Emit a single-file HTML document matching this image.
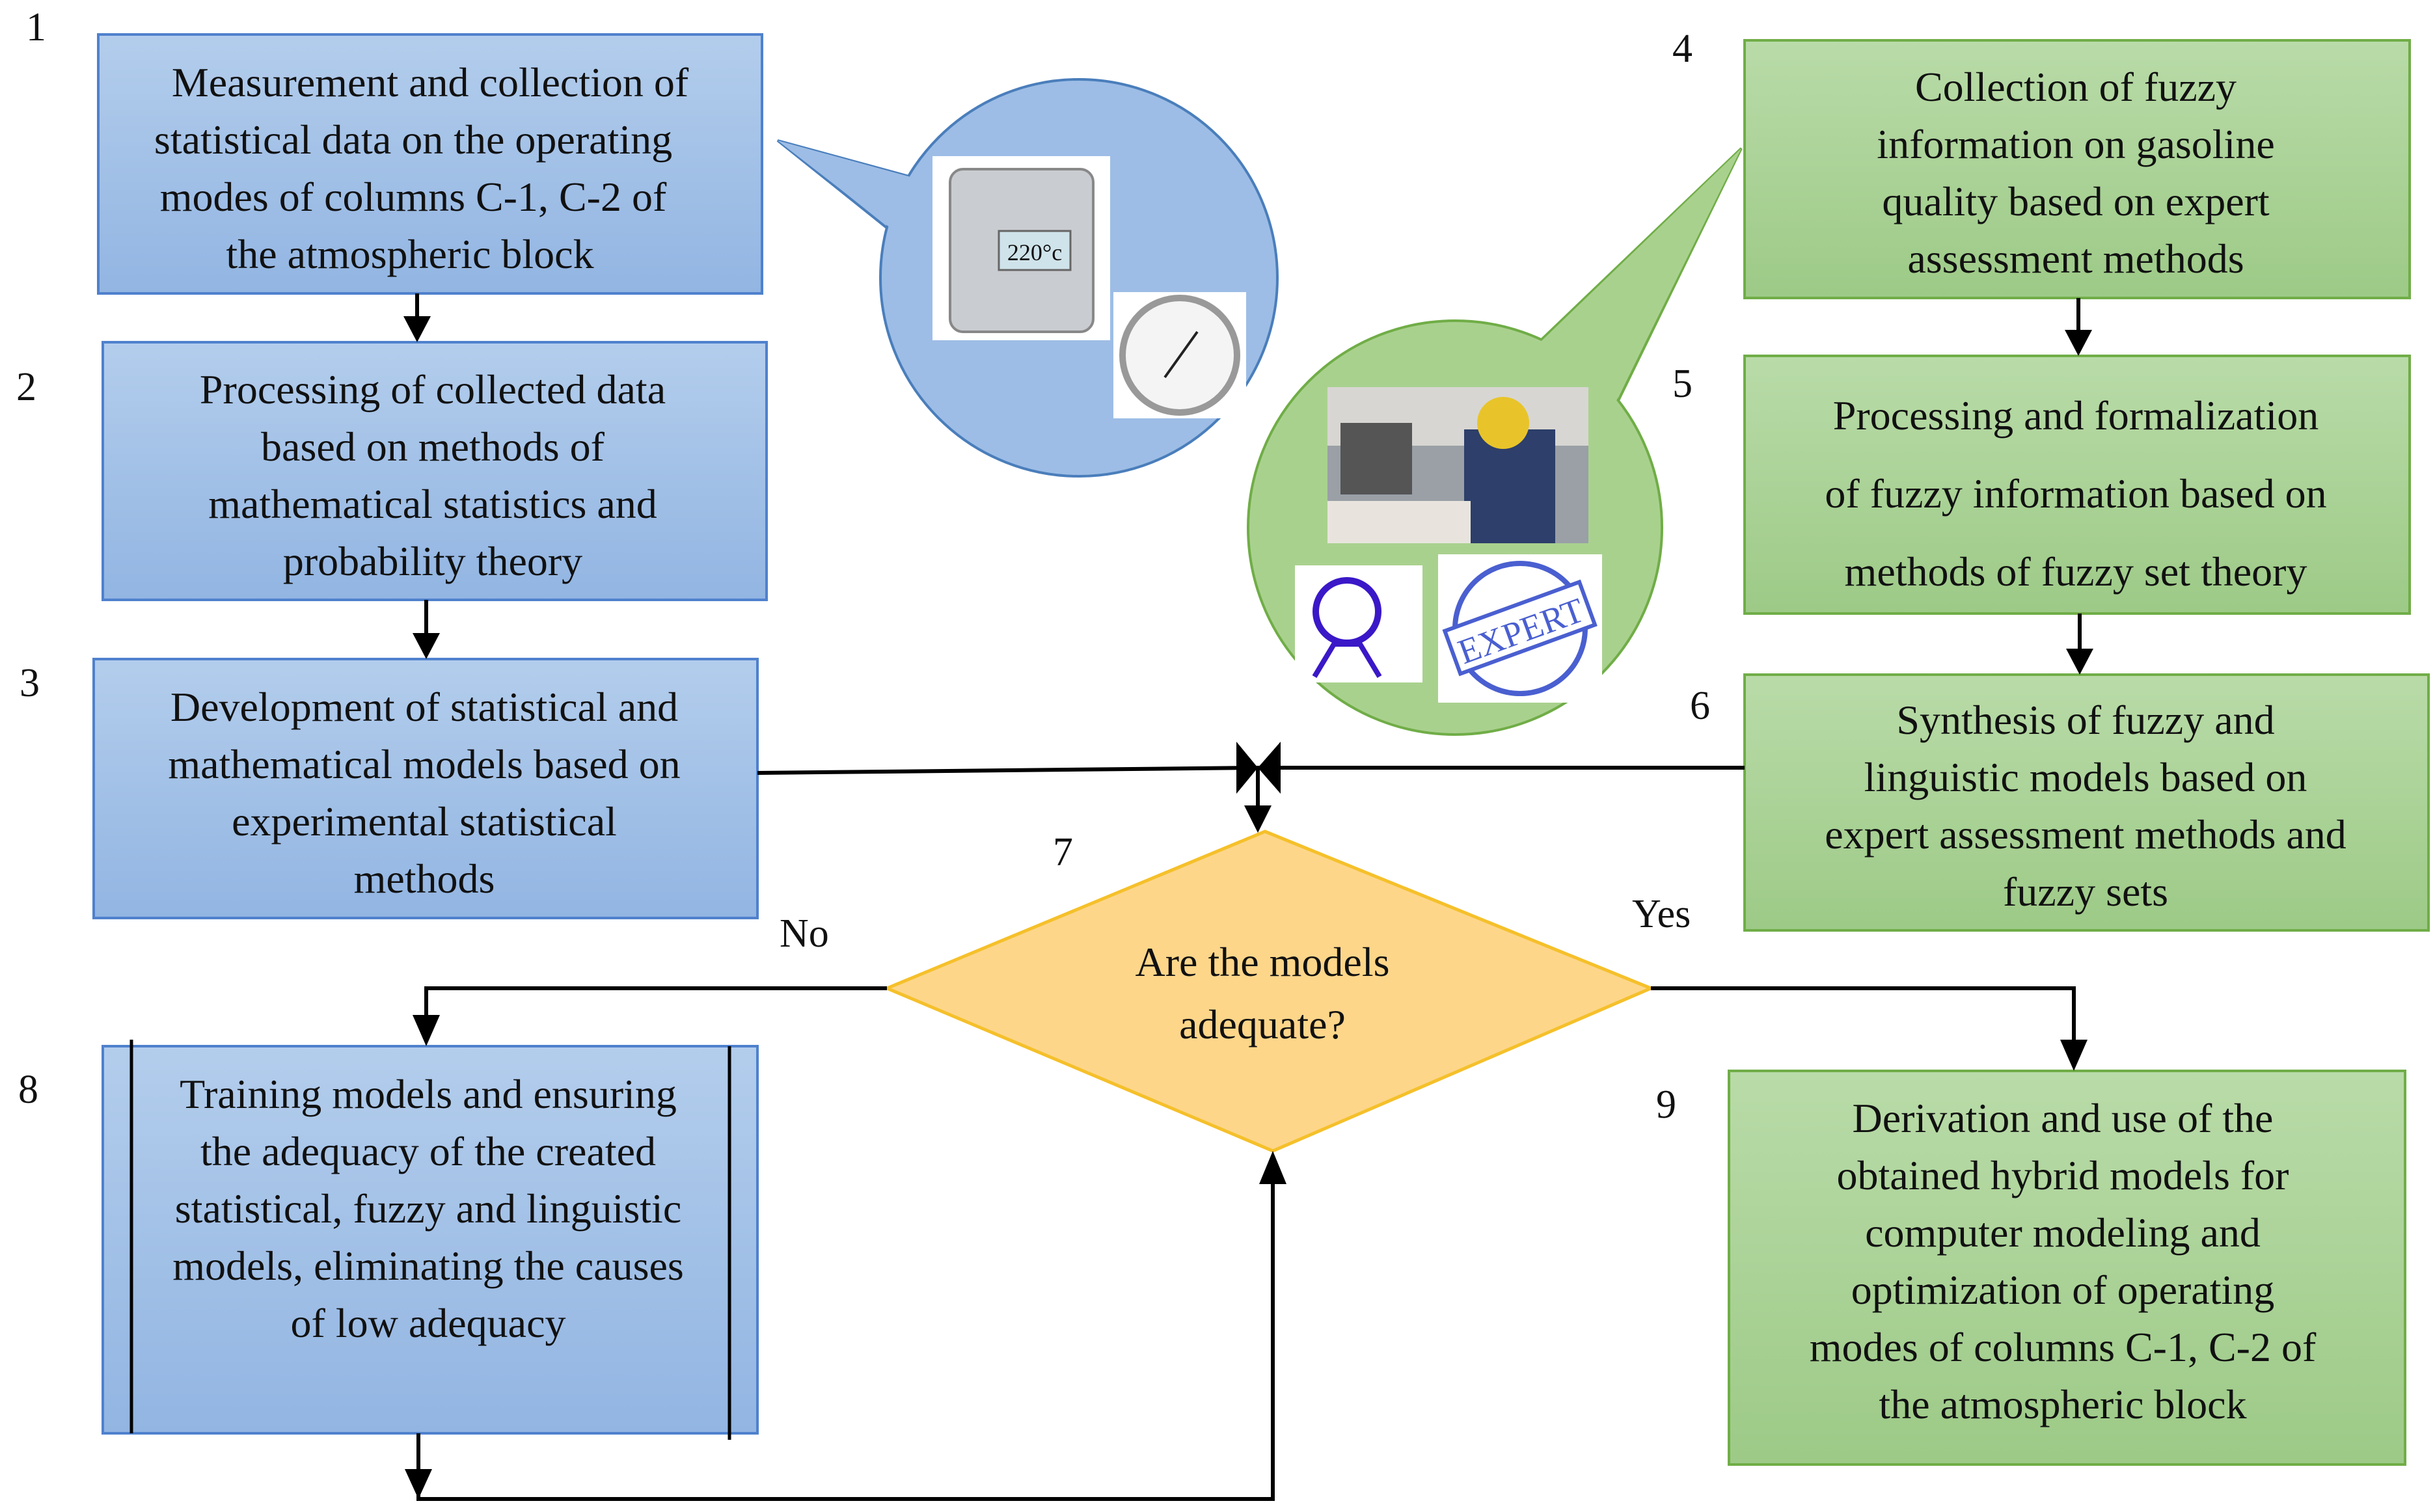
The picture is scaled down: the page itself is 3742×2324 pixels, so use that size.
<!DOCTYPE html>
<html><head><meta charset="utf-8"><style>
html,body{margin:0;padding:0;background:#fff;}
svg{display:block;}
text{font-family:"Liberation Serif",serif;fill:#111;}
</style></head><body>
<svg width="3742" height="2324" viewBox="0 0 3742 2324" xmlns="http://www.w3.org/2000/svg">
<defs>
<linearGradient id="gb" x1="0" y1="0" x2="0" y2="1"><stop offset="0" stop-color="#b3cdec"/><stop offset="1" stop-color="#92b5e2"/></linearGradient>
<linearGradient id="gg" x1="0" y1="0" x2="0" y2="1"><stop offset="0" stop-color="#b9dba8"/><stop offset="1" stop-color="#9dca87"/></linearGradient>
</defs>
<!-- bubbles -->
<polygon points="1195,216 1430,280 1400,380" fill="#9dbde6" stroke="#4a7ebb" stroke-width="4"/>
<circle cx="1658" cy="427" r="305" fill="#9dbde6" stroke="#4a7ebb" stroke-width="4"/>
<polygon points="1195,216 1436,282 1404,378" fill="#9dbde6"/>
<polygon points="2676,228 2350,540 2480,630" fill="#a9d18e" stroke="#70ad47" stroke-width="4"/>
<circle cx="2236" cy="811" r="318" fill="#a9d18e" stroke="#70ad47" stroke-width="4"/>
<polygon points="2676,228 2344,548 2472,640" fill="#a9d18e"/>
<!-- images placeholders -->
<rect x="1433" y="240" width="273" height="283" fill="#fff"/>
<rect x="1460" y="260" width="220" height="250" rx="20" fill="#c9ccd0" stroke="#888" stroke-width="4"/>
<rect x="1535" y="355" width="110" height="60" fill="#cfe3ea" stroke="#666" stroke-width="3"/>
<text x="1590" y="400" font-size="36" text-anchor="middle">220°c</text>
<rect x="1711" y="449" width="204" height="194" fill="#fff"/>
<circle cx="1813" cy="546" r="88" fill="#f4f4f4" stroke="#999" stroke-width="10"/>
<line x1="1790" y1="580" x2="1840" y2="510" stroke="#222" stroke-width="4"/>
<rect x="2040" y="595" width="401" height="240" fill="#9aa0a6"/>
<rect x="2040" y="595" width="401" height="90" fill="#d8d6d2"/>
<rect x="2060" y="650" width="110" height="110" fill="#555"/>
<rect x="2250" y="660" width="140" height="175" fill="#2d3f6a"/>
<circle cx="2310" cy="650" r="40" fill="#e8c42a"/>
<rect x="2040" y="770" width="220" height="65" fill="#e8e4dd"/>
<rect x="1990" y="869" width="196" height="180" fill="#fff"/>
<circle cx="2070" cy="940" r="48" fill="none" stroke="#3a18c8" stroke-width="10"/>
<path d="M2020,1040 L2050,990 L2090,990 L2120,1040" fill="none" stroke="#3a18c8" stroke-width="8"/>
<rect x="2210" y="852" width="252" height="228" fill="#fff"/>
<circle cx="2336" cy="966" r="100" fill="none" stroke="#4a5fd0" stroke-width="8"/>
<g transform="rotate(-20 2336 966)"><rect x="2226" y="930" width="220" height="70" fill="#fff" stroke="#4a5fd0" stroke-width="6"/><text x="2336" y="988" font-family="Liberation Sans,sans-serif" font-size="54" text-anchor="middle" style="fill:#4a5fd0">EXPERT</text></g>
<!-- boxes -->
<g stroke-width="4">
<rect x="151" y="53" width="1020" height="398" fill="url(#gb)" stroke="#4f81cd"/>
<rect x="158" y="526" width="1020" height="396" fill="url(#gb)" stroke="#4f81cd"/>
<rect x="144" y="1013" width="1020" height="398" fill="url(#gb)" stroke="#4f81cd"/>
<rect x="158" y="1608" width="1006" height="595" fill="url(#gb)" stroke="#4f81cd"/>
<rect x="2681" y="62" width="1022" height="396" fill="url(#gg)" stroke="#70ad47"/>
<rect x="2681" y="547" width="1022" height="396" fill="url(#gg)" stroke="#70ad47"/>
<rect x="2681" y="1037" width="1051" height="393" fill="url(#gg)" stroke="#70ad47"/>
<rect x="2657" y="1646" width="1039" height="605" fill="url(#gg)" stroke="#70ad47"/>
</g>
<line x1="202" y1="1598" x2="202" y2="2203" stroke="#000" stroke-width="5"/>
<line x1="1121" y1="1608" x2="1121" y2="2213" stroke="#000" stroke-width="5"/>
<polygon points="1363,1519 1944,1278 2537,1519 1956,1769" fill="#fdd68a" stroke="#f5c02a" stroke-width="5"/>
<!-- connectors -->
<g stroke="#000" stroke-width="6" fill="none">
<line x1="641" y1="451" x2="641" y2="500"/>
<line x1="655" y1="922" x2="655" y2="990"/>
<line x1="3194" y1="458" x2="3194" y2="520"/>
<line x1="3196" y1="943" x2="3196" y2="1010"/>
<line x1="1164" y1="1188" x2="1933" y2="1180"/>
<line x1="2681" y1="1180" x2="1933" y2="1180"/>
<line x1="1933" y1="1180" x2="1933" y2="1250"/>
<polyline points="1363,1519 655,1519 655,1580"/>
<polyline points="2537,1519 3187,1519 3187,1620"/>
<polyline points="643,2203 643,2304 1956,2304 1956,1800"/>
</g>
<g fill="#000">
<polygon points="1900,1140 1933,1180 1900,1220"/>
<polygon points="1968,1140 1933,1180 1968,1220"/>
<polygon points="1912,1238 1954,1238 1933,1280"/>
<polygon points="620,486 662,486 641,526"/>
<polygon points="634,973 676,973 655,1013"/>
<polygon points="3173,507 3215,507 3194,547"/>
<polygon points="3175,997 3217,997 3196,1037"/>
<polygon points="634,1560 676,1560 655,1608"/>
<polygon points="3166,1598 3208,1598 3187,1646"/>
<polygon points="622,2258 664,2258 643,2304"/>
<polygon points="1935,1820 1977,1820 1956,1769"/>
</g>
<!-- labels -->
<g font-size="62">
<text x="40" y="62">1</text>
<text x="25" y="615">2</text>
<text x="30" y="1070">3</text>
<text x="2570" y="95">4</text>
<text x="2570" y="610">5</text>
<text x="2597" y="1105">6</text>
<text x="1618" y="1330">7</text>
<text x="28" y="1695">8</text>
<text x="2545" y="1718">9</text>
<text x="1198" y="1455">No</text>
<text x="2508" y="1425">Yes</text>
</g>
<g font-size="64" text-anchor="middle">
<text x="661" y="148">Measurement and collection of</text>
<text x="635" y="236">statistical data on the operating</text>
<text x="635" y="324">modes of columns C-1, C-2 of</text>
<text x="630" y="412">the atmospheric block</text>
<text x="665" y="620">Processing of collected data</text>
<text x="665" y="708">based on methods of</text>
<text x="665" y="796">mathematical statistics and</text>
<text x="665" y="884">probability theory</text>
<text x="652" y="1108">Development of statistical and</text>
<text x="652" y="1196">mathematical models based on</text>
<text x="652" y="1284">experimental statistical</text>
<text x="652" y="1372">methods</text>
<text x="658" y="1703">Training models and ensuring</text>
<text x="658" y="1791">the adequacy of the created</text>
<text x="658" y="1879">statistical, fuzzy and linguistic</text>
<text x="658" y="1967">models, eliminating the causes</text>
<text x="658" y="2055">of low adequacy</text>
<text x="1940" y="1500">Are the models</text>
<text x="1940" y="1596">adequate?</text>
<text x="3190" y="155">Collection of fuzzy</text>
<text x="3190" y="243">information on gasoline</text>
<text x="3190" y="331">quality based on expert</text>
<text x="3190" y="419">assessment methods</text>
<text x="3190" y="660">Processing and formalization</text>
<text x="3190" y="780">of fuzzy information based on</text>
<text x="3190" y="900">methods of fuzzy set theory</text>
<text x="3205" y="1128">Synthesis of fuzzy and</text>
<text x="3205" y="1216">linguistic models based on</text>
<text x="3205" y="1304">expert assessment methods and</text>
<text x="3205" y="1392">fuzzy sets</text>
<text x="3170" y="1740">Derivation and use of the</text>
<text x="3170" y="1828">obtained hybrid models for</text>
<text x="3170" y="1916">computer modeling and</text>
<text x="3170" y="2004">optimization of operating</text>
<text x="3170" y="2092">modes of columns C-1, C-2 of</text>
<text x="3170" y="2180">the atmospheric block</text>
</g>
</svg>
</body></html>
